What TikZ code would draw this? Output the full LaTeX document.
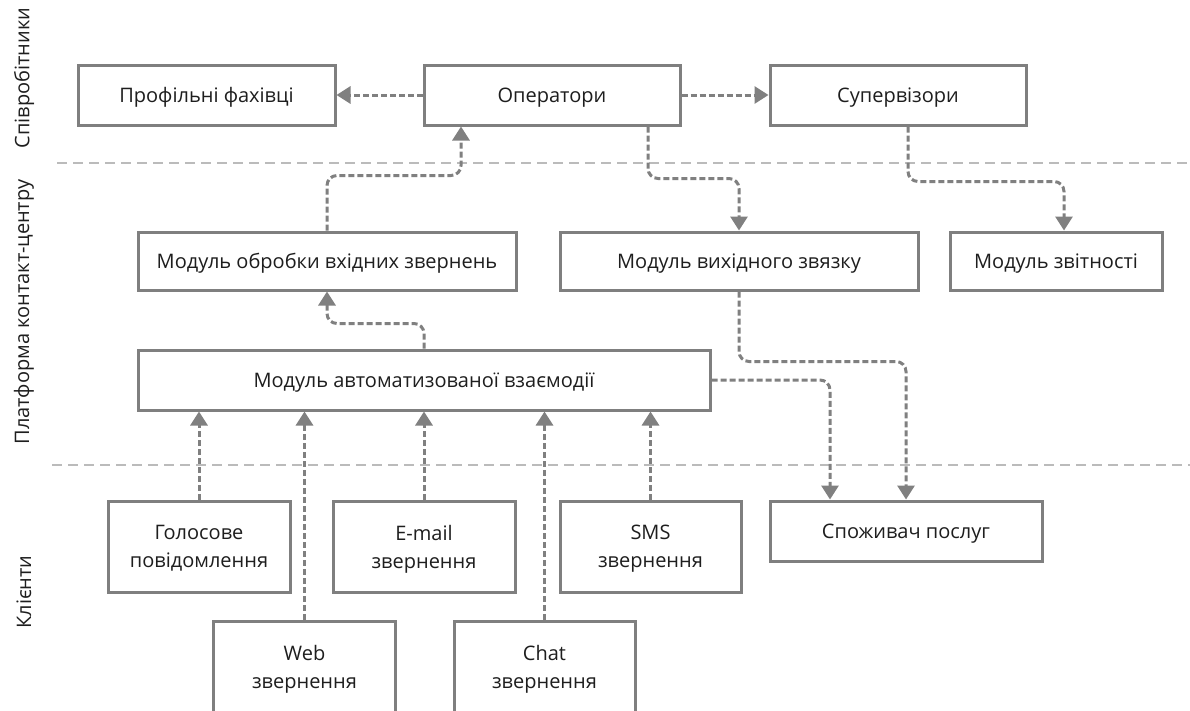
\documentclass[tikz,border=0pt]{standalone}
\usepackage{fontspec}
\setmainfont{Open Sans}
\usetikzlibrary{arrows.meta,calc}
\definecolor{boxgray}{HTML}{7F7F7F}
\definecolor{linegray}{HTML}{808080}
\definecolor{sepgray}{HTML}{BBBBBB}
\definecolor{txt}{HTML}{1E1E1E}
\tikzset{
  box/.style={draw=boxgray, line width=3pt, fill=white, text=txt, font=\fontsize{20}{28}\selectfont, align=center, inner sep=0pt, text depth=0pt},
  conn/.style={draw=linegray, line width=3pt, dash pattern=on 6pt off 3pt, rounded corners=10pt, -{Triangle[width=17pt,length=14pt]}},
  sep/.style={draw=sepgray, line width=2.8pt, dash pattern=on 10pt off 6pt},
  side/.style={rotate=90, text=txt, font=\fontsize{20}{24}\selectfont}
}
\begin{document}
\begin{tikzpicture}[x=1pt,y=-1pt]
\clip (0,0) rectangle (1190,710);
\fill[white] (0,0) rectangle (1190,710);
% separators
\draw[sep] (57,163) coordinate (s1a) -- (1190,163) coordinate (s1b);
\draw[sep] (52,465) coordinate (s2a) -- (1190,465) coordinate (s2b);
% side labels
\node[side] (l1) at (24,78) {Співробітники};
\node[side] (l2) at (24,312) {Платформа контакт-центру};
\node[side] (l3) at (24,592) {Клієнти};
% boxes
\node[box, minimum width=257pt, minimum height=60pt] (prof) at (206.5,95) {Профільні фахівці};
\node[box, minimum width=256pt, minimum height=60pt] (oper) at (552,95) {Оператори};
\node[box, minimum width=256pt, minimum height=60pt] (sup) at (898,95) {Супервізори};
\node[box, minimum width=378pt, minimum height=58pt] (obr) at (327,261) {Модуль обробки вхідних звернень};
\node[box, minimum width=358pt, minimum height=58pt] (vyh) at (739,261) {Модуль вихідного звязку};
\node[box, minimum width=212pt, minimum height=58pt] (zvit) at (1056,261) {Модуль звітності};
\node[box, minimum width=572pt, minimum height=60pt] (auto) at (424,380) {Модуль автоматизованої взаємодії};
\node[box, minimum width=182pt, minimum height=91pt] (gol) at (199,546.5) {Голосове\\повідомлення};
\node[box, minimum width=182pt, minimum height=91pt] (email) at (424,546.5) {E-mail\\звернення};
\node[box, minimum width=181pt, minimum height=91pt] (sms) at (650.5,546.5) {SMS\\звернення};
\node[box, minimum width=272pt, minimum height=60pt] (spoz) at (906,531) {Споживач послуг};
\node[box, minimum width=182pt, minimum height=91pt] (web) at (304.5,666.5) {Web\\звернення};
\node[box, minimum width=181pt, minimum height=91pt] (chat) at (544.5,666.5) {Chat\\звернення};
% connectors
\draw[conn] (oper.west) -- (prof.east);
\draw[conn] (oper.east) -- (sup.west);
\draw[conn] (obr.north) |- ++(134,-55) -- ([xshift=-91pt]oper.south);
\draw[conn] ([xshift=96pt]oper.south) -- ++(0,52) -| (vyh.north);
\draw[conn] ([xshift=10pt]sup.south) -- ++(0,55) -| ([xshift=8pt]zvit.north);
\draw[conn] (auto.north) |- ($(obr.south)+(0,32)$) -- (obr.south);
\draw[conn] (vyh.south) -- ++(0,70) -| (spoz.north);
\draw[conn] (auto.east) -| ([xshift=-76pt]spoz.north);
\draw[conn] (gol.north) -- (auto.south -| gol.north);
\draw[conn] (web.north) -- (auto.south -| web.north);
\draw[conn] (email.north) -- (auto.south -| email.north);
\draw[conn] (chat.north) -- (auto.south -| chat.north);
\draw[conn] (sms.north) -- (auto.south -| sms.north);
\end{tikzpicture}
\end{document}
